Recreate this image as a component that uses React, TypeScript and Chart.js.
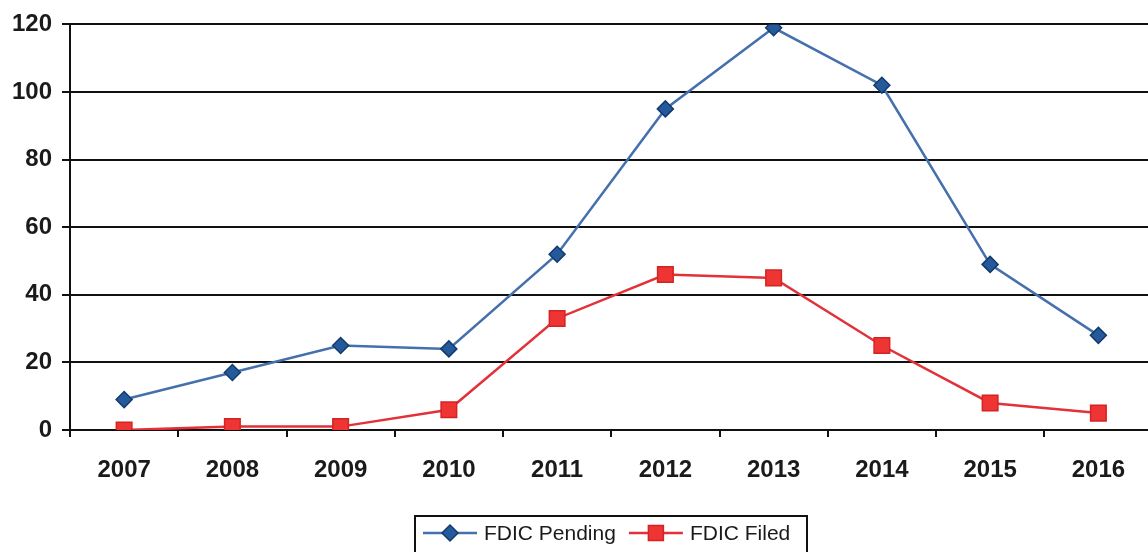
import React, { useEffect, useRef } from "react";
import { Chart, registerables } from "chart.js";

Chart.register(...registerables);

// Yearly counts of FDIC cases
const years = ["2007", "2008", "2009", "2010", "2011", "2012", "2013", "2014", "2015", "2016"];
const pendingCounts = [9, 17, 25, 24, 52, 95, 119, 102, 49, 28];
const filedCounts = [0, 1, 1, 6, 33, 46, 45, 25, 8, 5];

const yMin = 0;
const yMax = 120;
const yStep = 20;

const FONT = "'Liberation Sans', Arial, Helvetica, sans-serif";

// The plot runs slightly past the visible right edge
const CANVAS_W = 1165;
const CANVAS_H = 552;

type Marker = "diamond" | "square";

function drawMarker(ctx: CanvasRenderingContext2D, kind: Marker, x: number, y: number, fill: string, stroke: string) {
  ctx.save();
  ctx.fillStyle = fill;
  ctx.strokeStyle = stroke;
  ctx.lineWidth = 1.5;
  ctx.beginPath();
  if (kind === "diamond") {
    const r = 8;
    ctx.moveTo(x, y - r);
    ctx.lineTo(x + r, y);
    ctx.lineTo(x, y + r);
    ctx.lineTo(x - r, y);
    ctx.closePath();
  } else {
    const h = 7.5;
    ctx.rect(x - h, y - h, 2 * h, 2 * h);
  }
  ctx.fill();
  ctx.stroke();
  ctx.restore();
}

// Boxed legend centred under the plot area
const boxLegend = {
  id: "boxLegend",
  afterDraw(chart: any) {
    const { ctx, chartArea } = chart;
    ctx.save();
    ctx.font = `21px ${FONT}`;
    const sample = 54;
    const padL = 8;
    const gapText = 7;
    const gapItem = 13;
    const padR = 17;
    const items = chart.data.datasets.map((ds: any) => ({
      ds,
      w: ctx.measureText(ds.label).width,
    }));
    const total =
      padL +
      items.reduce((s: number, it: any) => s + sample + gapText + it.w, 0) +
      gapItem * (items.length - 1) +
      padR;
    const cx = (chartArea.left + chartArea.right) / 2;
    const left = Math.round(cx - total / 2);
    const top = chartArea.bottom + 86;
    const cy = top + 17;

    ctx.lineWidth = 2;
    ctx.strokeStyle = "#111";
    ctx.strokeRect(left, top, Math.round(total), 60);

    let x = left + padL;
    items.forEach((it: any) => {
      const ds = it.ds;
      ctx.strokeStyle = ds.borderColor;
      ctx.lineWidth = ds.borderWidth;
      ctx.beginPath();
      ctx.moveTo(x, cy);
      ctx.lineTo(x + sample, cy);
      ctx.stroke();
      drawMarker(ctx, ds.markerKind, x + sample / 2, cy, ds.pointBackgroundColor, ds.pointBorderColor);
      x += sample + gapText;
      ctx.fillStyle = "#1a1a1a";
      ctx.textAlign = "left";
      ctx.textBaseline = "middle";
      ctx.fillText(ds.label, x, cy + 1);
      x += it.w + gapItem;
    });
    ctx.restore();
  },
};

export default function App() {
  const canvasRef = useRef<HTMLCanvasElement | null>(null);

  useEffect(() => {
    document.body.style.margin = "0";
    document.documentElement.style.overflow = "hidden";
    const canvas = canvasRef.current;
    if (!canvas) return;

    const chart = new Chart(canvas, {
      type: "line",
      data: {
        labels: years,
        datasets: [
          {
            label: "FDIC Pending",
            data: pendingCounts,
            borderColor: "#4570ad",
            borderWidth: 2.5,
            pointStyle: "rectRot",
            pointRadius: 8,
            pointHoverRadius: 8,
            pointBackgroundColor: "#245a9c",
            pointBorderColor: "#143a6c",
            pointBorderWidth: 1.5,
            tension: 0,
            fill: false,
            markerKind: "diamond",
          } as any,
          {
            label: "FDIC Filed",
            data: filedCounts,
            borderColor: "#e3313a",
            borderWidth: 2.5,
            pointStyle: "rect",
            pointRadius: 11,
            pointHoverRadius: 11,
            pointBackgroundColor: "#ef3434",
            pointBorderColor: "#d42323",
            pointBorderWidth: 1.5,
            tension: 0,
            fill: false,
            markerKind: "square",
          } as any,
        ],
      },
      options: {
        animation: false,
        responsive: false,
        devicePixelRatio: 1,
        events: [],
        layout: { padding: { top: 21, left: 0, right: 0, bottom: 0 } },
        plugins: {
          legend: { display: false },
          tooltip: { enabled: false },
          title: { display: false },
        },
        scales: {
          x: {
            type: "category",
            offset: true,
            grid: {
              offset: true,
              drawOnChartArea: false,
              drawTicks: true,
              tickLength: 7,
              color: "#111",
              lineWidth: 2,
            },
            border: { display: true, color: "#111", width: 2 },
            ticks: {
              color: "#1a1a1a",
              font: { family: FONT, size: 24, weight: "bold" },
              padding: 19,
              maxRotation: 0,
              autoSkip: false,
            },
            afterFit(scale: any) {
              scale.height = 122;
            },
          },
          y: {
            min: yMin,
            max: yMax,
            grid: {
              color: "#111",
              lineWidth: 2,
              drawTicks: true,
              tickLength: 8,
            },
            border: { display: true, color: "#111", width: 2 },
            ticks: {
              stepSize: yStep,
              color: "#1a1a1a",
              font: { family: FONT, size: 24, weight: "bold" },
              padding: 10,
            },
            afterFit(scale: any) {
              scale.width = 70;
            },
          },
        },
      },
      plugins: [boxLegend],
    });

    return () => chart.destroy();
  }, []);

  return (
    <div
      style={{
        position: "fixed",
        left: 0,
        top: 0,
        width: CANVAS_W,
        height: CANVAS_H,
        background: "#fff",
      }}
    >
      <canvas
        ref={canvasRef}
        width={CANVAS_W}
        height={CANVAS_H}
        style={{ width: CANVAS_W, height: CANVAS_H, display: "block" }}
      />
    </div>
  );
}
